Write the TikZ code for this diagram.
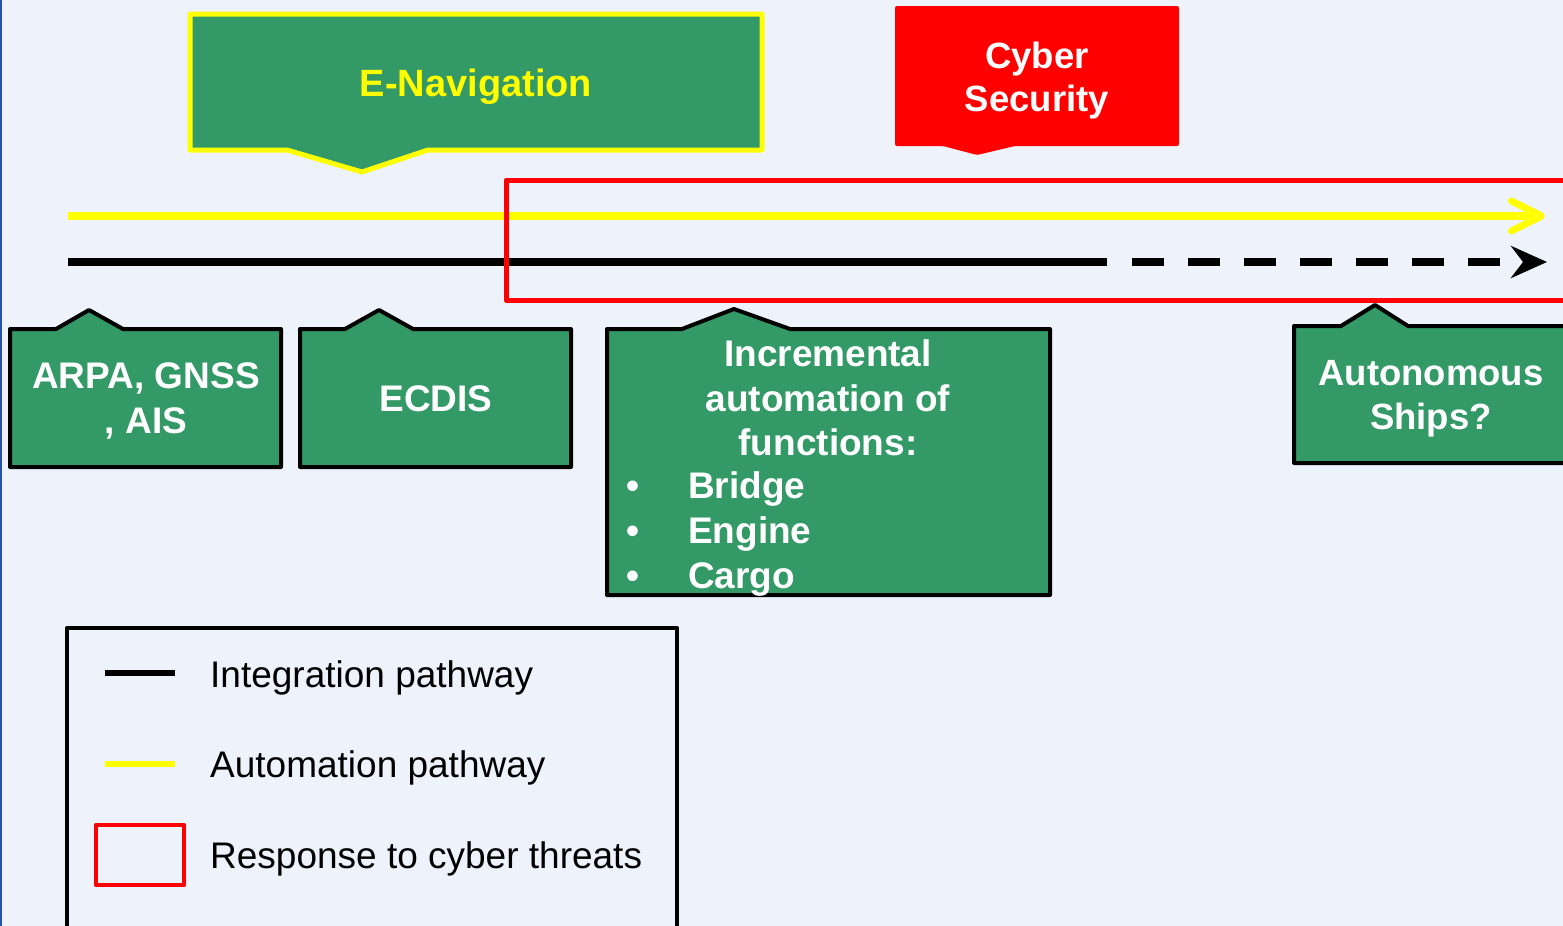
\documentclass[tikz,border=0pt]{standalone}
\usepackage{fontspec}
\setmainfont{Liberation Sans}
\usetikzlibrary{arrows.meta}
\definecolor{bgblue}{HTML}{EEF3FB}
\definecolor{edgeblue}{HTML}{2A52A8}
\definecolor{boxgreen}{HTML}{339966}
\definecolor{ylw}{HTML}{FFFF00}
\definecolor{rd}{HTML}{FF0000}
\tikzset{
  greenbox/.style={fill=boxgreen, draw=black, line width=4pt, line join=round},
  boxtext/.style={text=white, font=\bfseries\fontsize{37}{45}\selectfont, inner sep=0pt, align=center},
  linetext/.style={text=white, font=\bfseries\fontsize{37}{45}\selectfont, inner sep=0pt, anchor=base west},
  legtext/.style={text=black, font=\fontsize{37}{45}\selectfont, inner sep=0pt, anchor=base west},
}
\begin{document}
\begin{tikzpicture}[x=1pt,y=-1pt]
\useasboundingbox (0,0) rectangle (1563,926);
\clip (0,0) rectangle (1563,926);
\fill[bgblue] (0,0) rectangle (1563,926);
\draw[edgeblue, line width=2pt] (0.5,0) -- (0.5,926);

% E-Navigation callout
\draw[fill=boxgreen, draw=ylw, line width=5pt, line join=round]
  (190,14) -- (762,14) -- (762,150) -- (428,150) -- (362,172) -- (287,150) -- (190,150) -- cycle;
\node[text=ylw, font=\bfseries\fontsize{38}{45}\selectfont, inner sep=0pt, anchor=base] (enav) at (476,96) {E-Navigation};

% Cyber Security callout
\fill[rd, rounded corners=2pt]
  (895,6) -- (1179,6) -- (1179,146) -- (1015,146) -- (977,155) -- (943,146) -- (895,146) -- cycle;
\node[boxtext, font=\bfseries\fontsize{36.5}{43}\selectfont] (cyber) at (1037,81) {Cyber\\Security};

% pathways
\coordinate (ys) at (68,216);
\coordinate (ye) at (1545,216);
\coordinate (bs) at (68,262);
\coordinate (bm) at (1107,262);
\coordinate (bd) at (1132,262);
\coordinate (be) at (1547,262);
\draw[ylw, line width=7.5pt, -{Straight Barb[length=30pt, width=30pt, line width=7pt, round]}] (ys) -- (ye);
\draw[black, line width=8pt] (bs) -- (bm);
\draw[black, line width=8pt, dash pattern=on 32pt off 24pt, -{Stealth[length=36pt, width=32pt, inset=12pt]}] (bd) -- (be);

% response frame
\draw[rd, line width=5pt, line join=round] (506,180) rectangle (1580,300);

% bottom boxes
\draw[greenbox] (10,329) -- (56,329) -- (89,310) -- (123,329) -- (281,329) -- (281,467) -- (10,467) -- cycle;
\node[boxtext] (arpa) at (146,401) {ARPA, GNSS\\, AIS};

\draw[greenbox] (300,329) -- (345,329) -- (379,310) -- (413,329) -- (571,329) -- (571,467) -- (300,467) -- cycle;
\node[boxtext] (ecdis) at (436,399) {ECDIS};

\draw[greenbox] (607,329) -- (682,329) -- (734,309) -- (790,329) -- (1050,329) -- (1050,595) -- (607,595) -- cycle;
\node[boxtext, anchor=base] (inc1) at (828,366) {Incremental};
\node[boxtext, anchor=base] (inc2) at (828,411) {automation of};
\node[boxtext, anchor=base] (inc3) at (828,455) {functions:};
\node[linetext] (b1) at (626,498) {\makebox[62pt][l]{\textbullet}Bridge};
\node[linetext] (b2) at (626,543) {\makebox[62pt][l]{\textbullet}Engine};
\node[linetext] (b3) at (626,588) {\makebox[62pt][l]{\textbullet}Cargo};

\draw[greenbox] (1294,326) -- (1341,326) -- (1375,305) -- (1408,326) -- (1580,326) -- (1580,463) -- (1294,463) -- cycle;
\node[boxtext, font=\bfseries\fontsize{36.5}{44}\selectfont] (auto) at (1431,399) {Autonomous\\Ships?};

% legend
\draw[black, line width=4pt, line join=round] (67,950) -- (67,628) -- (677,628) -- (677,950);
\coordinate (l1a) at (105,673); \coordinate (l1b) at (175,673);
\coordinate (l2a) at (105,764); \coordinate (l2b) at (175,764);
\draw[black, line width=6pt] (l1a) -- (l1b);
\draw[ylw, line width=6pt] (l2a) -- (l2b);
\draw[rd, line width=4.5pt, line join=round] (96,825) rectangle (184,885);
\node[legtext] (leg1) at (210,687) {Integration pathway};
\node[legtext] (leg2) at (210,777) {Automation pathway};
\node[legtext] (leg3) at (210,868) {Response to cyber threats};
\end{tikzpicture}
\end{document}
